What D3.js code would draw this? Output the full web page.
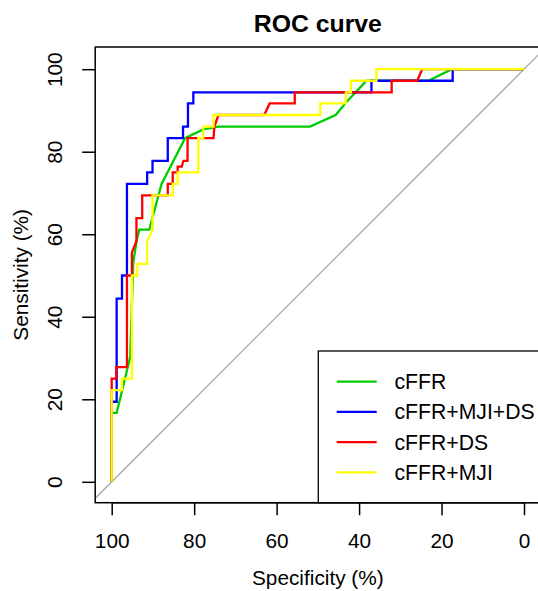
<!DOCTYPE html>
<html>
<head>
<meta charset="utf-8">
<script src="https://cdn.jsdelivr.net/npm/d3@7"></script>
<style>
  html, body { margin: 0; padding: 0; background: #fff; }
  svg { display: block; font-family: "Liberation Sans", Arial, Helvetica, sans-serif; }
</style>
</head>
<body>
<svg id="chart" width="538" height="591"></svg>
<script>
// ---- data (specificity %, sensitivity %) ----
const seriesNames = ["cFFR", "cFFR+MJI+DS", "cFFR+DS", "cFFR+MJI"];
const seriesColors = ["#00CD00", "#0000FF", "#FF0000", "#FFFF00"];

const cffrSpec = [100, 100, 98.8, 95.5, 94.8, 94.0, 93.3, 90.9, 87.9, 82.2, 77.8, 74.1, 51.9, 45.7, 43.0, 38.2, 23.2, 17.5, 0];
const cffrSens = [0, 16.7, 16.7, 30.3, 52.8, 58.3, 61.1, 61.1, 72.2, 83.3, 85.4, 86.1, 86.1, 88.9, 92.1, 97.2, 97.2, 100, 100];

const mjidsSpec = [100, 100, 98.8, 98.8, 97.5, 97.5, 96.3, 96.3, 91.4, 91.4, 90.1, 90.1, 86.4, 86.4, 82.7, 82.7, 81.5, 81.5, 80.2, 80.2, 37.0, 37.0, 17.3, 17.3, 0];
const mjidsSens = [0, 19.4, 19.4, 44.4, 44.4, 50, 50, 72.2, 72.2, 75, 75, 77.8, 77.8, 83.3, 83.3, 86.1, 86.1, 91.7, 91.7, 94.4, 94.4, 97.2, 97.2, 100, 100];

const dsSpec = [100, 100, 98.9, 98.9, 96.3, 96.3, 95.1, 95.1, 94.0, 94.0, 92.6, 92.6, 86.4, 86.4, 85.2, 85.2, 84.0, 84.0, 83.0, 82.6, 81.6, 81.6, 75.3, 75.1, 74.1, 63.0, 61.7, 55.6, 55.6, 32.1, 32.1, 25.9, 24.7, 0];
const dsSens = [0, 25, 25, 27.8, 27.8, 50, 50, 55.6, 58.3, 63.9, 63.9, 69.4, 69.4, 72.2, 72.2, 75, 75, 76.4, 76.4, 77.8, 77.8, 83.3, 83.3, 86.1, 88.9, 88.9, 91.7, 91.7, 94.4, 94.4, 97.2, 97.2, 100, 100];

const mjiSpec = [100, 100, 97.5, 97.5, 95.1, 95.1, 93.8, 93.8, 91.4, 91.4, 90.1, 90.1, 85.2, 85.2, 84.0, 84.0, 79.0, 79.0, 77.8, 77.8, 75.3, 75.3, 49.4, 49.4, 43.2, 43.2, 42.0, 42.0, 35.8, 35.8, 0];
const mjiSens = [0, 22.2, 22.2, 25, 25, 50, 50, 52.8, 52.8, 58.3, 61.1, 69.4, 69.4, 72.2, 72.2, 75, 75, 83.3, 83.3, 86.1, 86.1, 88.9, 88.9, 91.7, 91.7, 94.4, 94.4, 97.2, 97.2, 100, 100];

const xTicks = [100, 80, 60, 40, 20, 0];
const yTicks = [0, 20, 40, 60, 80, 100];

// ---- layout ----
const svg = d3.select("#chart");
const x = d3.scaleLinear().domain([100, 0]).range([111.7, 524.0]);
const y = d3.scaleLinear().domain([0, 100]).range([481.8, 69.2]);
const plotL = x(104), plotR = x(-4);
const plotT = 47, plotB = 502.7;
const fs = 20.8;

svg.append("defs").append("clipPath").attr("id", "clip")
  .append("rect").attr("x", plotL).attr("y", plotT)
  .attr("width", plotR - plotL).attr("height", plotB - plotT);

// identity line
svg.append("line")
  .attr("clip-path", "url(#clip)")
  .attr("x1", x(110)).attr("y1", y(-10))
  .attr("x2", x(-10)).attr("y2", y(110))
  .attr("stroke", "#A9A9A9").attr("stroke-width", 1.3);

// curves
const series = [
  { spec: cffrSpec, sens: cffrSens },
  { spec: mjidsSpec, sens: mjidsSens },
  { spec: dsSpec, sens: dsSens },
  { spec: mjiSpec, sens: mjiSens }
];
const line = d3.line().x(d => x(d[0])).y(d => y(d[1]));
series.forEach((s, i) => {
  const pts = s.spec.map((v, j) => [v, s.sens[j]]);
  svg.append("path")
    .attr("d", line(pts))
    .attr("fill", "none")
    .attr("stroke", seriesColors[i])
    .attr("stroke-width", 2.3)
    .attr("stroke-linejoin", "miter");
});

// box
svg.append("rect")
  .attr("x", plotL).attr("y", plotT)
  .attr("width", plotR - plotL).attr("height", plotB - plotT)
  .attr("fill", "none").attr("stroke", "#000").attr("stroke-width", 1.5);

// x axis
const xAxis = d3.axisBottom(x).tickValues(xTicks).tickSize(12.5).tickPadding(0).tickFormat(d3.format("d"));
const gx = svg.append("g").attr("transform", `translate(0,${plotB})`).call(xAxis);
gx.select(".domain").remove();
gx.selectAll(".tick line").attr("stroke", "#000").attr("stroke-width", 1.5);
gx.selectAll(".tick text").attr("font-size", fs).attr("fill", "#000")
  .attr("font-family", "Liberation Sans, Arial, sans-serif")
  .attr("dy", null).attr("y", 45.6).attr("dominant-baseline", "auto");
svg.append("line").attr("x1", x(100)).attr("x2", x(0)).attr("y1", plotB).attr("y2", plotB)
  .attr("stroke", "#000").attr("stroke-width", 1.5);

// y axis
const yAxis = d3.axisLeft(y).tickValues(yTicks).tickSize(13).tickPadding(0).tickFormat(d3.format("d"));
const gy = svg.append("g").attr("transform", `translate(${plotL},0)`).call(yAxis);
gy.select(".domain").remove();
gy.selectAll(".tick line").attr("stroke", "#000").attr("stroke-width", 1.5);
gy.selectAll(".tick text").attr("font-size", fs).attr("fill", "#000")
  .attr("font-family", "Liberation Sans, Arial, sans-serif")
  .attr("x", null).attr("dy", null)
  .attr("text-anchor", "middle")
  .attr("transform", "translate(-33.5,0) rotate(-90)");

// axis titles
svg.append("text").attr("x", (plotL + plotR) / 2).attr("y", 585)
  .attr("text-anchor", "middle").attr("font-size", fs).text("Specificity (%)");
svg.append("text")
  .attr("transform", `translate(27.7,${(plotT + plotB) / 2}) rotate(-90)`)
  .attr("text-anchor", "middle").attr("font-size", fs).text("Sensitivity (%)");

// title
svg.append("text").attr("x", (plotL + plotR) / 2).attr("y", 31.5)
  .attr("text-anchor", "middle").attr("font-size", 24.8).attr("font-weight", "bold")
  .text("ROC curve");

// legend
const legL = 318.3, legT = 351;
svg.append("rect").attr("x", legL).attr("y", legT)
  .attr("width", 240).attr("height", plotB - legT)
  .attr("fill", "#fff").attr("stroke", "#000").attr("stroke-width", 1.3);
seriesNames.forEach((name, i) => {
  const ly = 381.7 + i * 30.2;
  svg.append("line").attr("x1", 336.7).attr("x2", 376.7).attr("y1", ly).attr("y2", ly)
    .attr("stroke", seriesColors[i]).attr("stroke-width", 2.3);
  svg.append("text").attr("x", 394.5).attr("y", ly + 7.5)
    .attr("font-size", 21.2).text(name);
});
</script>
</body>
</html>
